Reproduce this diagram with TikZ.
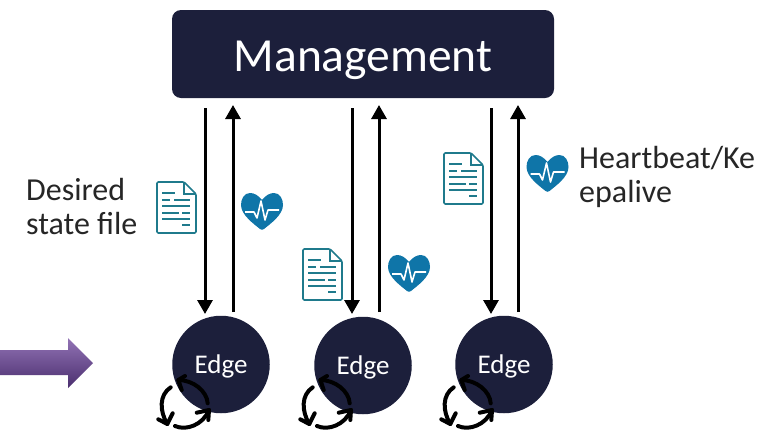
\documentclass[tikz,border=0pt]{standalone}
\usepackage{fontspec}
\setmainfont{Carlito}
\usetikzlibrary{arrows.meta}
\definecolor{navy}{HTML}{1C1F3B}
\definecolor{teal1}{HTML}{1F7A8C}
\definecolor{heartblue}{HTML}{0F75A8}
\definecolor{purpletop}{HTML}{9273B5}
\definecolor{purplebot}{HTML}{4A2E6E}
\newcommand{\lowered}[2]{\raisebox{-#1}[30pt][30pt]{#2}}
\tikzset{
  mgmt/.style={fill=navy,rounded corners=9pt,minimum width=382pt,minimum height=88pt,text=white,font=\fontsize{47.5}{47.5}\selectfont,inner sep=0pt},
  edgenode/.style={circle,fill=navy,minimum size=97.5pt,inner sep=0pt,text=white,font=\fontsize{27}{27}\selectfont},
  flow/.style={line width=3pt,black,-{Triangle[length=14pt,width=15pt]}},
  lbl/.style={font=\fontsize{32}{34}\selectfont,align=left,anchor=west,inner sep=0pt,text=black!85},
  cyc/.style={line width=4pt,black,line cap=round,line join=round},
  docicon/.pic={
    \draw[teal1,line width=1.6pt,rounded corners=1.2pt,fill=white] (0,0) -- (27,0) -- (39,12) -- (39,51) -- (0,51) -- cycle;
    \draw[teal1,line width=1.6pt] (27,0) -- (27,12) -- (39,12);
    \foreach \a/\b/\y in {5/18/11, 5/13/18, 17/33/18, 5/33/24, 5/22/31, 25/33/31, 5/33/37, 25/33/43}
      \draw[teal1,line width=1.6pt] (\a,\y) -- (\b,\y);
  },
  hearticon/.pic={
    \fill[heartblue] (0,-12) .. controls (-4,-17) and (-8,-19) .. (-12,-19)
      .. controls (-18,-19) and (-21,-13) .. (-21,-7)
      .. controls (-21,3) and (-8,12) .. (-2,17)
      .. controls (-1,18) and (1,18) .. (2,17)
      .. controls (8,12) and (21,3) .. (21,-7)
      .. controls (21,-13) and (18,-19) .. (12,-19)
      .. controls (8,-19) and (4,-17) .. (0,-12) -- cycle;
    \draw[white,line width=1.6pt,line join=round] (-17,0) -- (-8,0) -- (-5,6) -- (-1,-11) -- (3,8) -- (6,-2) -- (17,-2);
  },
  pics/cycleicon/.style={code={
    \draw[cyc] (24.7,0.3) .. controls (24,-12) and (10,-23) .. (-4.7,-23);
    \draw[cyc] (2,-27) -- (-4.7,-23) -- (-1.3,-13);
    \draw[cyc] (-12.3,-15.7) .. controls (-24,-8) and (-23.5,8) .. (-15.7,21);
    \draw[cyc] (-24.7,16.3) -- (-15.7,21) -- (-10.3,10.3);
    \draw[cyc] (-8,23) .. controls (3,28) and (20,22) .. (26,7);
    \draw[cyc] (13.7,9.7) -- (26,7) -- (25.3,17);
  }}
}
\begin{document}
\begin{tikzpicture}[x=1pt,y=-1pt]
\useasboundingbox (0,0) rectangle (767,429);
\clip (0,0) rectangle (767,429);
% purple arrow
\shade[top color=purpletop,bottom color=purplebot]
  (0,350) -- (68,350) -- (68,338) -- (93,363) -- (68,388) -- (68,375) -- (0,375) -- cycle;
% nodes
\node[mgmt] (m) at (363,54) {\lowered{17pt}{Management}};
\node[edgenode] (e1) at (221,364.5) {\lowered{9pt}{Edge}};
\node[edgenode] (e2) at (363,365.5) {\lowered{9pt}{Edge}};
\node[edgenode] (e3) at (504,364.5) {\lowered{9pt}{Edge}};
% connector ends
\foreach \n/\d/\u in {1/205/233, 2/352/379, 3/491/518}{
  \coordinate (t\n d) at (\d,108);
  \coordinate (b\n d) at (\d,314);
  \coordinate (b\n u) at (\u,312);
  \coordinate (t\n u) at (\u,105);
  \draw[flow] (t\n d) -- (b\n d);
  \draw[flow] (b\n u) -- (t\n u);
}
% icons
\pic at (157,182) {docicon};
\pic at (303,249) {docicon};
\pic at (444,153) {docicon};
\pic at (262,212) {hearticon};
\pic at (409,274) {hearticon};
\pic at (547.5,174) {hearticon};
% labels
\node[lbl] (l1) at (26,207) {Desired\\state file};
\node[lbl] (l2) at (579,177) {Heartbeat/Ke\\epalive};
% cycles
\pic at (183,403) {cycleicon};
\pic at (325,403) {cycleicon};
\pic at (466,403) {cycleicon};
\end{tikzpicture}
\end{document}
